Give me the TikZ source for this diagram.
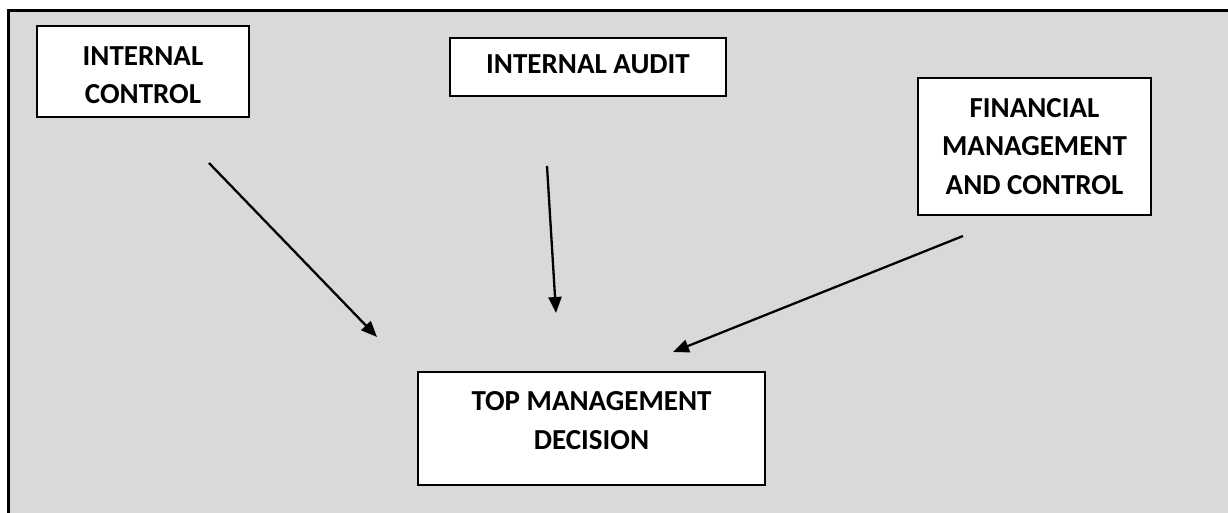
\documentclass[tikz,border=0pt]{standalone}
\usepackage{fontspec}
\setmainfont{Carlito}
\usetikzlibrary{arrows.meta}
\definecolor{bggray}{HTML}{D9D9D9}
\tikzset{
  box/.style={draw=black, line width=1.5pt, fill=white, align=center,
    font=\fontsize{29}{38.5}\selectfont\bfseries, inner sep=0pt},
  conn/.style={line width=2.3pt, -{Triangle[length=16pt,width=13pt]}}
}
\begin{document}
\begin{tikzpicture}[x=1pt,y=-1pt]
\useasboundingbox (0,0) rectangle (1228,513);
\fill[bggray] (8,11) rectangle (1228,513);
\draw[line width=3pt] (1228,11) -- (8,11) -- (8,513);
\node[box, minimum width=212pt, minimum height=91pt] (ic) at (143,71.5) {\rule{0pt}{26.7pt}INTERNAL\\CONTROL};
\node[box, minimum width=276pt, minimum height=58pt, text depth=6pt] (ia) at (588,67) {INTERNAL AUDIT};
\node[box, minimum width=233pt, minimum height=137pt] (fm) at (1034.5,146.5) {FINANCIAL\\MANAGEMENT\\AND CONTROL};
\node[box, minimum width=347pt, minimum height=113pt, text depth=16pt] (tm) at (591.5,428.5) {TOP MANAGEMENT\\DECISION};
\coordinate (s1) at (209,163);
\coordinate (e1) at (377,337);
\coordinate (s2) at (547,166);
\coordinate (e2) at (556,313);
\coordinate (s3) at (963,236);
\coordinate (e3) at (673,352);
\draw[conn] (s1) -- (e1);
\draw[conn] (s2) -- (e2);
\draw[conn] (s3) -- (e3);
\end{tikzpicture}
\end{document}
